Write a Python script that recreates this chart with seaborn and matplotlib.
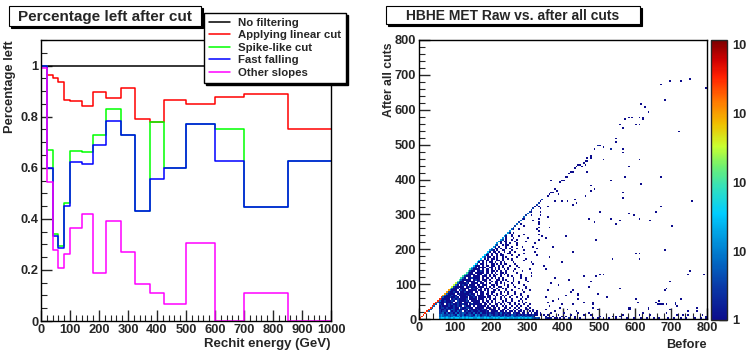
import numpy as np
import matplotlib
matplotlib.use("Agg")
import matplotlib.pyplot as plt
import seaborn as sns
from matplotlib.colors import LogNorm, LinearSegmentedColormap
from matplotlib.lines import Line2D
from matplotlib.patches import Rectangle
from matplotlib.ticker import MultipleLocator, LogLocator

# ---------------- left panel: fraction of rechits left per energy bin ----------------
energy_edges = [0, 20, 40, 60, 80, 100, 140, 180, 225, 275, 325, 375, 425, 500, 600, 700, 850, 1000]
no_filter = [1.0, 1.0, 1.0, 1.0, 1.0, 1.0, 1.0, 1.0, 1.0, 1.0, 1.0, 1.0, 1.0, 1.0, 1.0, 1.0, 1.0]
linear_cut = [1.0, 0.963, 0.950, 0.934, 0.867, 0.860, 0.840, 0.897, 0.871, 0.911, 0.789, 0.780, 0.867, 0.848, 0.876, 0.889, 0.751]
spike_cut = [1.0, 0.670, 0.342, 0.292, 0.462, 0.667, 0.662, 0.730, 0.828, 0.727, 0.429, 0.780, 0.600, 0.771, 0.751, 0.445, 0.627]
fast_falling = [1.0, 0.600, 0.331, 0.287, 0.452, 0.623, 0.615, 0.688, 0.783, 0.727, 0.429, 0.556, 0.600, 0.771, 0.627, 0.445, 0.627]
other_slopes = [0.99, 0.544, 0.276, 0.209, 0.261, 0.364, 0.420, 0.188, 0.390, 0.272, 0.143, 0.109, 0.066, 0.305, 0.0, 0.109, 0.0]
series_labels = ["No filtering", "Applying linear cut", "Spike-like cut", "Fast falling", "Other slopes"]
series_colors = ["#000000", "#ff0000", "#00ff00", "#0000ff", "#ff00ff"]

# ---------------- right panel: MET before vs after cuts (5 GeV cells) ----------------
# dense part (before < 345 GeV): one string per "after" row, bottom row first.
# first char of each row is the diagonal cell (after == before), next chars go to higher "before".
level_counts = {"1": 1, "2": 3, "3": 6, "4": 15, "5": 35, "6": 100, "7": 300, "8": 1000, "9": 3000}
dense_rows = [
    "9" ".........." "4554544545544545455445544545445454554454454454545454" "3232",
    "9" "........." "34334323433424343323434234332433342343234323342323232",
    "9" "........" "3432232321432312232142312231321221213121322121212111211.1.1",
    "9" "......." "2231312213132321221312131121211221311211.1211.11.1.1.11.1",
    "93" "....." "21221.3121312.12112111211121.1111.11.1.11.1.11.1..1.1.1",
    "93" "...." "2112121321131121.2111211211.1111.1.11.1..1.1.1..11..1",
    "93" "..." "12212111211.2112211.11111.111.11.1..11.1..1.1...1.1",
    "93" ".." "1211121121211.2111.1.11111.1.11.1..1.1..1..1.1...1",
    "93" "." "211.121211211211.1211111.11.1..11.1.1..1..1.1..1..1",
    "93" "11121111.1211.1121.1111.11.1.1.1.1.1..11..1...1.1",
    "9311211121.2111121.11111.1.11.1.1...1.1..1...1.1..",
    "921111.121211112.1111.111.1.1.11..1..1..1....1..1",
    "9311121121.1111.1121.1111.11..1..1.1..1...1..1..1",
    "83111211.111121121.1111..11.1.1..1.1..1....1...1",
    "831111.1211111211.1.11.11.1..1.1...1...1..1....",
    "8211211.1121111.11.11..1.11...1.1.1...1....1...",
    "83111.1211.11111.11.1.1..11.1...1..1.....1...1.",
    "73112.11111.1211.1.111.1..1..1.1......1...1..",
    "7211111.112111.111.1.1.1..11...1...1.....1....",
    "731.1211.111.11.111..11.1...1.1..1.....1...",
    "73111121.1111.11.1.1..11.1.1...1...1......",
    "6211.11111.121.11..1.11.1...1..1..1....1",
    "6311111.1211.111.1...11.1.1...1......1..",
    "631.1121111.1.11.1.1.1.1.....1...1..1...",
    "62111.1111.111.1.11..1...1.1....1.....1.",
    "631111.111.21.1.1.1.1.1.1......1......",
    "6211.11111.11.1.1..11.1.....1.......1",
    "6211.1121.11.11.1.1..1...1....1.....",
    "631111.1.11.1.1.1..1.1...1.......1",
    "521.1111..11.1.1.1..1.....1......",
    "5111.1.11.11..1.1...1...1........",
    "52.11.1..11.1.1.11....1.........1",
    "51.1.1.11.1..1.1....1.........1.",
    "521.11.1..11.1....1......1......",
    "5.1.1.11.1..1..1.1.......1......",
    "52.11.1.1..1.1.....1..........",
    "511.1..1.11....1...1.........1",
    "52.1.11.1...11.......1......",
    "51.11.1..1..1..1..........1",
    "421.1..11...1......1.......",
    "4.11.1..1.1...1..........1",
    "41.1...1..1.....1.....1...",
    "42..1.11....1..........",
    "4.1..1.1...1.........1..",
    "41.11....1.....1.......",
    "42.1..1..1...........1",
    "4.1...1.......1.......",
    "41..1...1............1",
    "4..1......1.......1...",
    "41.1................",
    "4...............1..",
    "31..1.........1...",
    "3.............1..",
    "2....1..........",
    "3.1.........1..",
    "2..........1..",
    "3......1.....",
    "21.......1..",
    "3..........",
    "2..1....1.",
    "3........",
    "21....1.",
    "2......",
    "2...1.",
    "1.1..",
    "2...",
    "2..",
    "1.",
    "2",
]

# sparse single entries above 345 GeV "before" (GeV)
sparse_before = [
    356, 360, 366, 370, 376, 380, 385, 393, 397, 401, 405, 410, 416, 424, 428, 433, 438, 443, 448, 452,
    457, 460, 462, 465, 466, 469, 476, 476, 487, 495, 498, 503, 512, 530, 534, 545, 546, 558, 565, 565,
    568, 568, 568, 573, 573, 583, 583, 593, 601, 610, 610, 613, 618, 618, 620, 620, 629, 635, 673, 673,
    684, 698, 720, 729, 754, 798, 512, 532, 476, 485, 476, 460, 379, 398, 412, 432, 425, 437, 357, 367,
    671, 757, 657, 701, 502, 582, 599, 610, 474, 485, 532, 555, 547, 643, 408, 493, 601, 612, 684, 610,
    537, 429, 457, 475, 501, 512, 474, 494, 557, 698, 745, 754, 793, 684, 687, 497, 520, 604, 665, 665,
    661, 712, 712, 676, 687, 726, 770, 484, 484, 480, 444, 444, 424, 405, 456, 440, 427, 470, 476, 442,
    456, 498, 504, 539, 549, 558, 567, 584, 586, 613, 622, 636, 641, 685, 695, 715, 734, 747, 761, 789,
    798, 582, 587, 636, 749, 772, 710, 717, 656, 672, 606,
    350, 355, 360, 365, 370, 375, 380, 385, 390, 395, 400, 405, 410, 415, 420, 425, 430, 435, 350, 355,
    362, 372, 385, 398, 350, 358, 365, 378, 352, 360, 372, 350, 362, 355, 348, 388, 395, 415,
    350, 350, 358, 368, 368, 378, 392, 402, 418, 430, 448, 462, 480, 495, 512, 528, 545, 562, 578, 596,
    615, 630, 650, 668, 690, 705, 725, 742, 765, 782, 798,
]
sparse_after = [
    350, 355, 360, 362, 374, 368, 357, 391, 395, 399, 405, 408, 415, 420, 424, 430, 436, 441, 443, 437,
    448, 441, 450, 463, 452, 424, 467, 463, 486, 495, 496, 498, 490, 486, 486, 519, 507, 556, 489, 475,
    545, 360, 347, 571, 409, 579, 438, 579, 559, 579, 457, 559, 617, 387, 575, 570, 605, 591, 673, 409,
    625, 680, 536, 680, 688, 660, 457, 396, 380, 373, 366, 354, 335, 337, 339, 342, 328, 330, 321, 395,
    321, 338, 309, 266, 306, 300, 298, 289, 286, 278, 289, 280, 272, 280, 237, 226, 189, 189, 197, 170,
    170, 191, 120, 108, 128, 128, 91, 120, 88, 108, 128, 139, 128, 82, 85, 71, 61, 57, 53, 40,
    40, 49, 40, 40, 40, 57, 32, 48, 40, 32, 73, 59, 78, 67, 46, 69, 81, 19, 10, 17,
    12, 27, 8, 8, 6, 8, 12, 31, 27, 12, 17, 31, 12, 17, 27, 12, 12, 12, 8, 12,
    8, 29, 34, 29, 24, 24, 46, 38, 46, 40, 48,
    5, 10, 3, 15, 8, 20, 3, 12, 30, 5, 18, 8, 25, 3, 12, 40, 5, 20, 25, 45,
    35, 50, 55, 42, 60, 80, 100, 115, 140, 175, 205, 230, 260, 290, 150, 95, 160, 110,
    2, 2, 2, 2, 2, 2, 2, 2, 2, 2, 2, 2, 2, 2, 2, 2, 2, 2, 2, 2,
    2, 2, 2, 2, 2, 2, 2, 2, 2, 2, 2,
]
colorbar_ticks = [1, 10, 100, 1000, 10000]
colorbar_labels = ["1", "10", "10", "10", "10"]

# ---------------- build the cell list ----------------
before_vals, after_vals, cell_counts = [], [], []
for r, row in enumerate(dense_rows):
    for k, ch in enumerate(row):
        if ch in level_counts:
            before_vals.append((r + k) * 5 + 2.5)
            after_vals.append(r * 5 + 2.5)
            cell_counts.append(level_counts[ch])
for b, a in zip(sparse_before, sparse_after):
    before_vals.append(b)
    after_vals.append(a)
    cell_counts.append(1)

# ROOT-like rainbow palette
root_cmap = LinearSegmentedColormap.from_list("root_rainbow", [
    (0.00, "#0c0c8c"), (0.12, "#0a3aa8"), (0.22, "#0070c8"), (0.32, "#00a8e8"),
    (0.38, "#00ccff"), (0.47, "#30e0c0"), (0.55, "#70f070"), (0.62, "#c8ff30"),
    (0.70, "#f0c000"), (0.78, "#ff7a00"), (0.87, "#ff2000"), (0.93, "#d00000"),
    (1.00, "#7a0000")])

sns.set_style("ticks")
plt.rcParams["font.family"] = ["Liberation Sans", "DejaVu Sans"]
plt.rcParams["font.weight"] = "bold"
plt.rcParams["axes.linewidth"] = 1.0

W, H = 748, 352
def fx(px):
    return px / W
def fy(py):
    return 1 - py / H

fig = plt.figure(figsize=(W / 100, H / 100), dpi=100)
fig.patch.set_facecolor("white")

ax1 = fig.add_axes([fx(41), fy(321), 290 / W, 281 / H])
ax2 = fig.add_axes([fx(419), fy(319), 288 / W, 279 / H])
cax = fig.add_axes([fx(711), fy(320), 16 / W, 280 / H])

# ---- left ----
centers = [(a + b) / 2 for a, b in zip(energy_edges[:-1], energy_edges[1:])]
all_series = [no_filter, linear_cut, spike_cut, fast_falling, other_slopes]
for vals, color in zip(all_series, series_colors):
    sns.histplot(x=centers, weights=vals, bins=energy_edges, element="step", fill=False,
                 color=color, linewidth=1.1, ax=ax1)

ax1.set_xlim(0, 1000)
ax1.set_ylim(0, 1.1)
ax1.xaxis.set_major_locator(MultipleLocator(100))
ax1.xaxis.set_minor_locator(MultipleLocator(20))
ax1.yaxis.set_major_locator(MultipleLocator(0.2))
ax1.yaxis.set_minor_locator(MultipleLocator(0.05))
ax1.set_yticks([0, 0.2, 0.4, 0.6, 0.8, 1.0])
ax1.set_yticklabels(["0", "0.2", "0.4", "0.6", "0.8", "1"])
ax1.set_xlabel("Rechit energy (GeV)", fontsize=9.5, fontweight="bold", loc="right")
ax1.set_ylabel("Percentage left", fontsize=9.3, fontweight="bold", loc="top")
ax1.xaxis.set_label_coords(1.0, -0.06)
ax1.yaxis.set_label_coords(-0.085, 1.0)

handles = [Line2D([], [], color=c, lw=1.1) for c in series_colors]
ax1.legend(handles, series_labels, loc="upper left", bbox_to_anchor=(fx(204), fy(13)),
           bbox_transform=fig.transFigure, fontsize=8.2, frameon=True, fancybox=False,
           edgecolor="black", facecolor="white", framealpha=1, borderpad=0.42,
           labelspacing=0.22, handlelength=1.9, handletextpad=0.7, borderaxespad=0,
           shadow={"ox": 1.5, "oy": -1.5, "color": "black", "alpha": 1})

# ---- right ----
cell_edges = list(np.arange(0, 805, 5))
sns.histplot(x=before_vals, y=after_vals, weights=cell_counts, bins=cell_edges,
             cmap=root_cmap, norm=LogNorm(vmin=1, vmax=11500), vmin=None, vmax=None,
             cbar=True, cbar_ax=cax, ax=ax2)
ax2.set_xlim(0, 800)
ax2.set_ylim(0, 800)
ax2.xaxis.set_major_locator(MultipleLocator(100))
ax2.xaxis.set_minor_locator(MultipleLocator(20))
ax2.yaxis.set_major_locator(MultipleLocator(100))
ax2.yaxis.set_minor_locator(MultipleLocator(20))
ax2.set_xlabel("Before", fontsize=9.2, fontweight="bold", loc="right")
ax2.set_ylabel("After all cuts", fontsize=8.8, fontweight="bold", loc="top")
ax2.xaxis.set_label_coords(1.0, -0.07)
ax2.yaxis.set_label_coords(-0.085, 0.99)

cax.set_yticks(colorbar_ticks)
cax.set_yticklabels(colorbar_labels)
cax.yaxis.set_minor_locator(LogLocator(base=10, subs=np.arange(2, 10)))
cax.tick_params(axis="y", which="both", direction="in", right=True, left=False,
                labelright=True, labelsize=9.3, pad=4)
cax.tick_params(axis="y", which="major", length=6, width=1)
cax.tick_params(axis="y", which="minor", length=3, width=0.8)

for ax in (ax1, ax2):
    ax.grid(False)
    for s in ax.spines.values():
        s.set_visible(True)
        s.set_color("black")
        s.set_linewidth(1.0)
    ax.tick_params(which="both", direction="in", top=False, right=False, labelsize=9.3, pad=2)
    ax.tick_params(which="major", length=8, width=1)
    ax.tick_params(which="minor", length=4, width=0.8)

# ---- title boxes ----
def title_box(x0, y0, x1, y1, text, size):
    fig.patches.append(Rectangle((fx(x0 + 2), fy(y1 + 2)), (x1 - x0) / W, (y1 - y0) / H,
                                 transform=fig.transFigure, facecolor="black", edgecolor="black",
                                 lw=0.8, zorder=5))
    fig.patches.append(Rectangle((fx(x0), fy(y1)), (x1 - x0) / W, (y1 - y0) / H,
                                 transform=fig.transFigure, facecolor="white", edgecolor="black",
                                 lw=0.8, zorder=6))
    fig.text(fx((x0 + x1) / 2), fy((y0 + y1) / 2 + 0.5), text, ha="center", va="center",
             fontsize=size, fontweight="bold", zorder=7)

title_box(9, 6, 201, 26, "Percentage left after cut", 11)
title_box(386, 6, 640, 24, "HBHE MET Raw vs. after all cuts", 10)

fig.savefig("out.png", dpi=100)
